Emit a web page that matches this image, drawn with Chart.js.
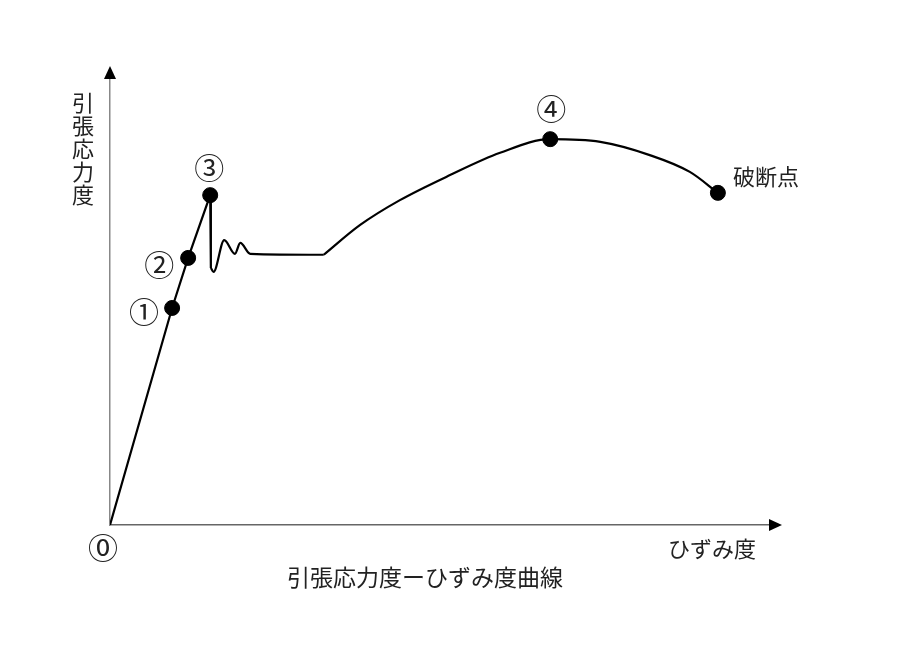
<!DOCTYPE html>
<html>
<head>
<meta charset="utf-8">
<script src="https://cdn.jsdelivr.net/npm/chart.js@4"></script>
<style>
  html, body { margin: 0; padding: 0; background: #fff; }
  #wrap { width: 910px; height: 653px; }
</style>
</head>
<body>
<div id="wrap"><canvas id="chart" width="910" height="653"></canvas></div>
<script>
// strain (x) / stress (y), arbitrary units, axis runs 0..100
const elasticX = [0, 9.3, 11.7, 15.0, 15.1];
const elasticY = [0, 47.7, 58.7, 72.5, 56.5];

const yieldX = [15.1, 15.5, 17.1, 18.7, 19.5, 21.0, 32.0];
const yieldY = [56.5, 55.6, 62.6, 59.6, 62.0, 59.6, 59.4];

const hardenX = [32.0, 37.4, 43.4, 50.9, 58.4, 65.9, 73.4, 80.8, 86.8, 91.0];
const hardenY = [59.4, 65.9, 71.4, 76.9, 81.8, 84.8, 84.2, 81.3, 77.6, 73.0];

const markerX = [9.3, 11.7, 15.0, 65.9, 91.0];
const markerY = [47.7, 58.7, 72.5, 84.8, 73.0];
const markerLabels = ["①", "②", "③", "④", "破断点"];

const xTitle = "ひずみ度";
const yTitle = "引張応力度";
const caption = "引張応力度ーひずみ度曲線";
const originLabel = "⓪";

const toPts = (xs, ys) => xs.map((x, i) => ({ x: x, y: ys[i] }));

const FONT = "'Noto Sans CJK JP', sans-serif";

const decor = {
  id: "decor",
  afterDraw(chart) {
    const ctx = chart.ctx;
    const xs = chart.scales.x, ys = chart.scales.y;
    const ca = chart.chartArea;
    ctx.save();
    // arrow heads
    ctx.fillStyle = "#000";
    ctx.beginPath();
    ctx.moveTo(ca.left, ca.top - 4);
    ctx.lineTo(ca.left - 6, ca.top + 9);
    ctx.lineTo(ca.left + 6, ca.top + 9);
    ctx.closePath();
    ctx.fill();
    ctx.beginPath();
    ctx.moveTo(ca.right + 4, ca.bottom);
    ctx.lineTo(ca.right - 9, ca.bottom - 6);
    ctx.lineTo(ca.right - 9, ca.bottom + 6);
    ctx.closePath();
    ctx.fill();

    ctx.fillStyle = "#222";
    ctx.textAlign = "center";
    ctx.textBaseline = "middle";

    // point labels
    const offs = [[-28, 4], [-29, 7], [-1, -28], [1, -31], [15, -16]];
    markerLabels.forEach((t, i) => {
      const px = xs.getPixelForValue(markerX[i]);
      const py = ys.getPixelForValue(markerY[i]);
      ctx.textAlign = i === 4 ? "left" : "center";
      ctx.font = i === 4 ? "22px " + FONT : "30px " + FONT;
      ctx.fillText(t, px + offs[i][0], py + offs[i][1]);
    });

    ctx.textAlign = "center";
    ctx.font = "30px " + FONT;
    ctx.fillText(originLabel, xs.getPixelForValue(0) - 7, ys.getPixelForValue(0) + 23);

    // y axis title, vertical
    ctx.font = "22px " + FONT;
    const chars = Array.from(yTitle);
    chars.forEach((c, i) => {
      ctx.fillText(c, ca.left - 27, ca.top + 33 + i * 23);
    });

    // x axis title
    ctx.fillText(xTitle, ca.right - 66, ca.bottom + 24);

    // caption
    ctx.font = "23px " + FONT;
    ctx.fillText(caption, 425, ca.bottom + 52);
    ctx.restore();
  }
};

new Chart(document.getElementById("chart"), {
  type: "line",
  data: {
    datasets: [
      {
        data: toPts(elasticX, elasticY),
        borderColor: "#000",
        borderWidth: 2.2,
        pointRadius: 0,
        tension: 0
      },
      {
        data: toPts(yieldX, yieldY),
        borderColor: "#000",
        borderWidth: 2.2,
        pointRadius: 0,
        cubicInterpolationMode: "monotone"
      },
      {
        data: toPts(hardenX, hardenY),
        borderColor: "#000",
        borderWidth: 2.2,
        pointRadius: 0,
        cubicInterpolationMode: "monotone"
      },
      {
        type: "scatter",
        data: toPts(markerX, markerY),
        pointRadius: 7.5,
        pointBackgroundColor: "#000",
        pointBorderColor: "#000",
        showLine: false
      }
    ]
  },
  plugins: [decor],
  options: {
    responsive: false,
    animation: false,
    layout: { padding: { left: 110, right: 132, top: 70, bottom: 128 } },
    plugins: {
      legend: { display: false },
      tooltip: { enabled: false },
      title: { display: false }
    },
    scales: {
      x: {
        type: "linear",
        min: 0,
        max: 100,
        grid: { display: false, drawTicks: false },
        border: { display: true, color: "#666", width: 1.5 },
        ticks: { display: false }
      },
      y: {
        type: "linear",
        min: 0,
        max: 100,
        grid: { display: false, drawTicks: false },
        border: { display: true, color: "#888", width: 1.5 },
        ticks: { display: false }
      }
    }
  }
});
</script>
</body>
</html>
